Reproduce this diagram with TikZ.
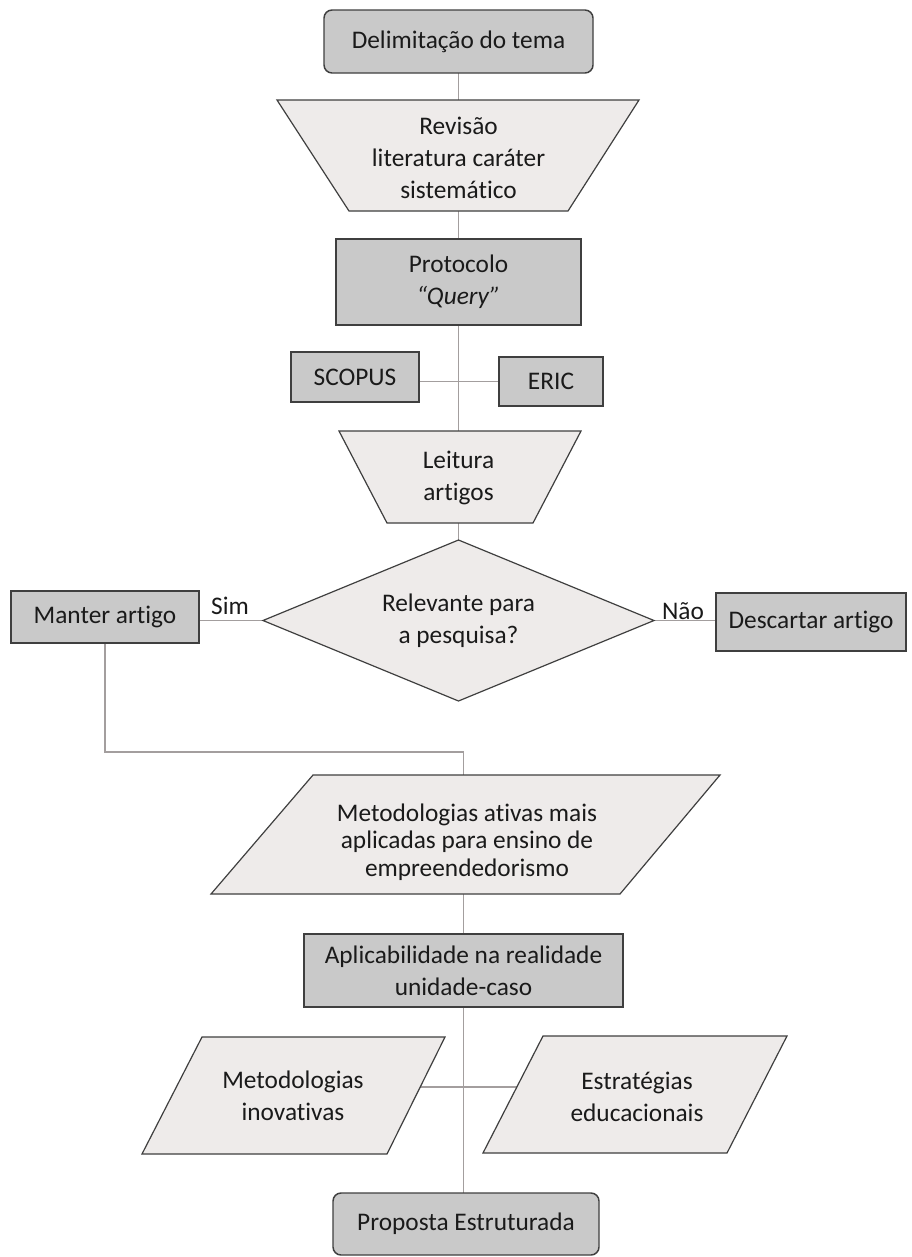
\documentclass[tikz,border=0pt]{standalone}
\usepackage{fontspec}
\setmainfont{Carlito}[Ligatures=NoCommon]
\usetikzlibrary{shapes.geometric,calc}
\pgfdeclarelayer{background}
\pgfsetlayers{background,main}
\definecolor{darkfill}{HTML}{C9C9C9}
\definecolor{lightfill}{HTML}{EEEBEA}
\definecolor{outline}{HTML}{3F3F3F}
\definecolor{wirecol}{HTML}{A39E9E}
\definecolor{inkcol}{HTML}{1A1A1A}
\begin{document}
\begin{tikzpicture}[x=0.75pt,y=-0.75pt,
  every node/.style={font=\fontsize{19}{24}\selectfont, text=inkcol, align=center, inner sep=0pt, outer sep=0pt},
  darkbox/.style={rectangle, draw=outline, fill=darkfill, line width=1.1pt},
  roundbox/.style={darkbox, rounded corners=6pt},
  lightpoly/.style={draw=outline, fill=lightfill, line width=0.9pt, line join=miter},
  decision/.style={diamond, draw=outline, fill=lightfill, line width=0.9pt},
  wire/.style={draw=wirecol, line width=1.3pt}]

% page background
\begin{pgfonlayer}{background}
  \fill[white] (0,0) rectangle (911,1257);
\end{pgfonlayer}
\useasboundingbox (0,0) rectangle (911,1257);

% trapezoids and parallelograms
\draw[lightpoly] (277,100) -- (639,100) -- (568,211) -- (349,211) -- cycle;
\draw[lightpoly] (339,431) -- (581,431) -- (533,523) -- (387,523) -- cycle;
\draw[lightpoly] (313,775) -- (720,775) -- (620,894) -- (211,894) -- cycle;
\draw[lightpoly] (202,1037) -- (445,1037) -- (387,1154) -- (142,1154) -- cycle;
\draw[lightpoly] (543,1036) -- (787,1036) -- (727,1153) -- (483,1153) -- cycle;

% steps
\node[roundbox, minimum width=201.75pt, minimum height=47.25pt] (delim) at (458.5,41.5) {Delimitação do tema};
\node (rev) at (458.5,158) {Revisão\\literatura caráter\\sistemático};
\node[darkbox, minimum width=183.75pt, minimum height=64.5pt] (proto) at (458.5,282) {Protocolo\\\textit{“Query”}};
\node[darkbox, minimum width=96pt, minimum height=37.5pt] (scopus) at (355,377) {SCOPUS};
\node[darkbox, minimum width=78pt, minimum height=36.75pt] (eric) at (551,381.5) {ERIC};
\node (leit) at (458.5,478) {Leitura\\artigos};
\node[decision, aspect=2.43, minimum width=293.25pt, minimum height=120.75pt] (dia) at (458.5,620.5) {Relevante para\\a pesquisa?};
\node[darkbox, minimum width=141pt, minimum height=39pt] (keep) at (105,617) {Manter artigo};
\node[darkbox, minimum width=142.5pt, minimum height=43.5pt] (drop) at (811,622) {Descartar artigo};
\node (sim) at (230,606) {Sim};
\node (nao) at (683,611) {Não};
\node[font=\fontsize{19}{20.6}\selectfont] (met) at (467,842) {Metodologias ativas mais\\aplicadas para ensino de\\empreendedorismo};
\node[darkbox, minimum width=239.25pt, minimum height=54.75pt] (aplic) at (463.5,970.5) {Aplicabilidade na realidade\\unidade-caso};
\node (inov) at (293,1096) {Metodologias\\inovativas};
\node (estr) at (637,1097) {Estratégias\\educacionais};
\node[roundbox, minimum width=199.5pt, minimum height=46.5pt] (prop) at (466,1224) {Proposta Estruturada};
\coordinate (join) at (463.5,752);

% connectors, kept under the shapes
\begin{pgfonlayer}{background}
  \draw[wire] (delim.center) -- (rev.center);
  \draw[wire] (rev.center) -- (proto.center);
  \draw[wire] (proto.center) -- (leit.center);
  \draw[wire] (scopus.center |- eric.center) -- (eric.center);
  \draw[wire] (leit.center) -- (dia.center);
  \draw[wire] (dia.center) -- (dia.center -| keep.center);
  \draw[wire] (dia.center) -- (dia.center -| drop.center);
  \draw[wire] (keep.center) |- (join) -- (join |- met.center);
  \draw[wire] (aplic.center |- met.center) -- (aplic.center);
  \draw[wire] (aplic.center) -- (aplic.center |- prop.center);
  \draw[wire] ($(inov.center)+(0,-9)$) -- ($(estr.center)+(0,-10)$);
\end{pgfonlayer}
\end{tikzpicture}
\end{document}
